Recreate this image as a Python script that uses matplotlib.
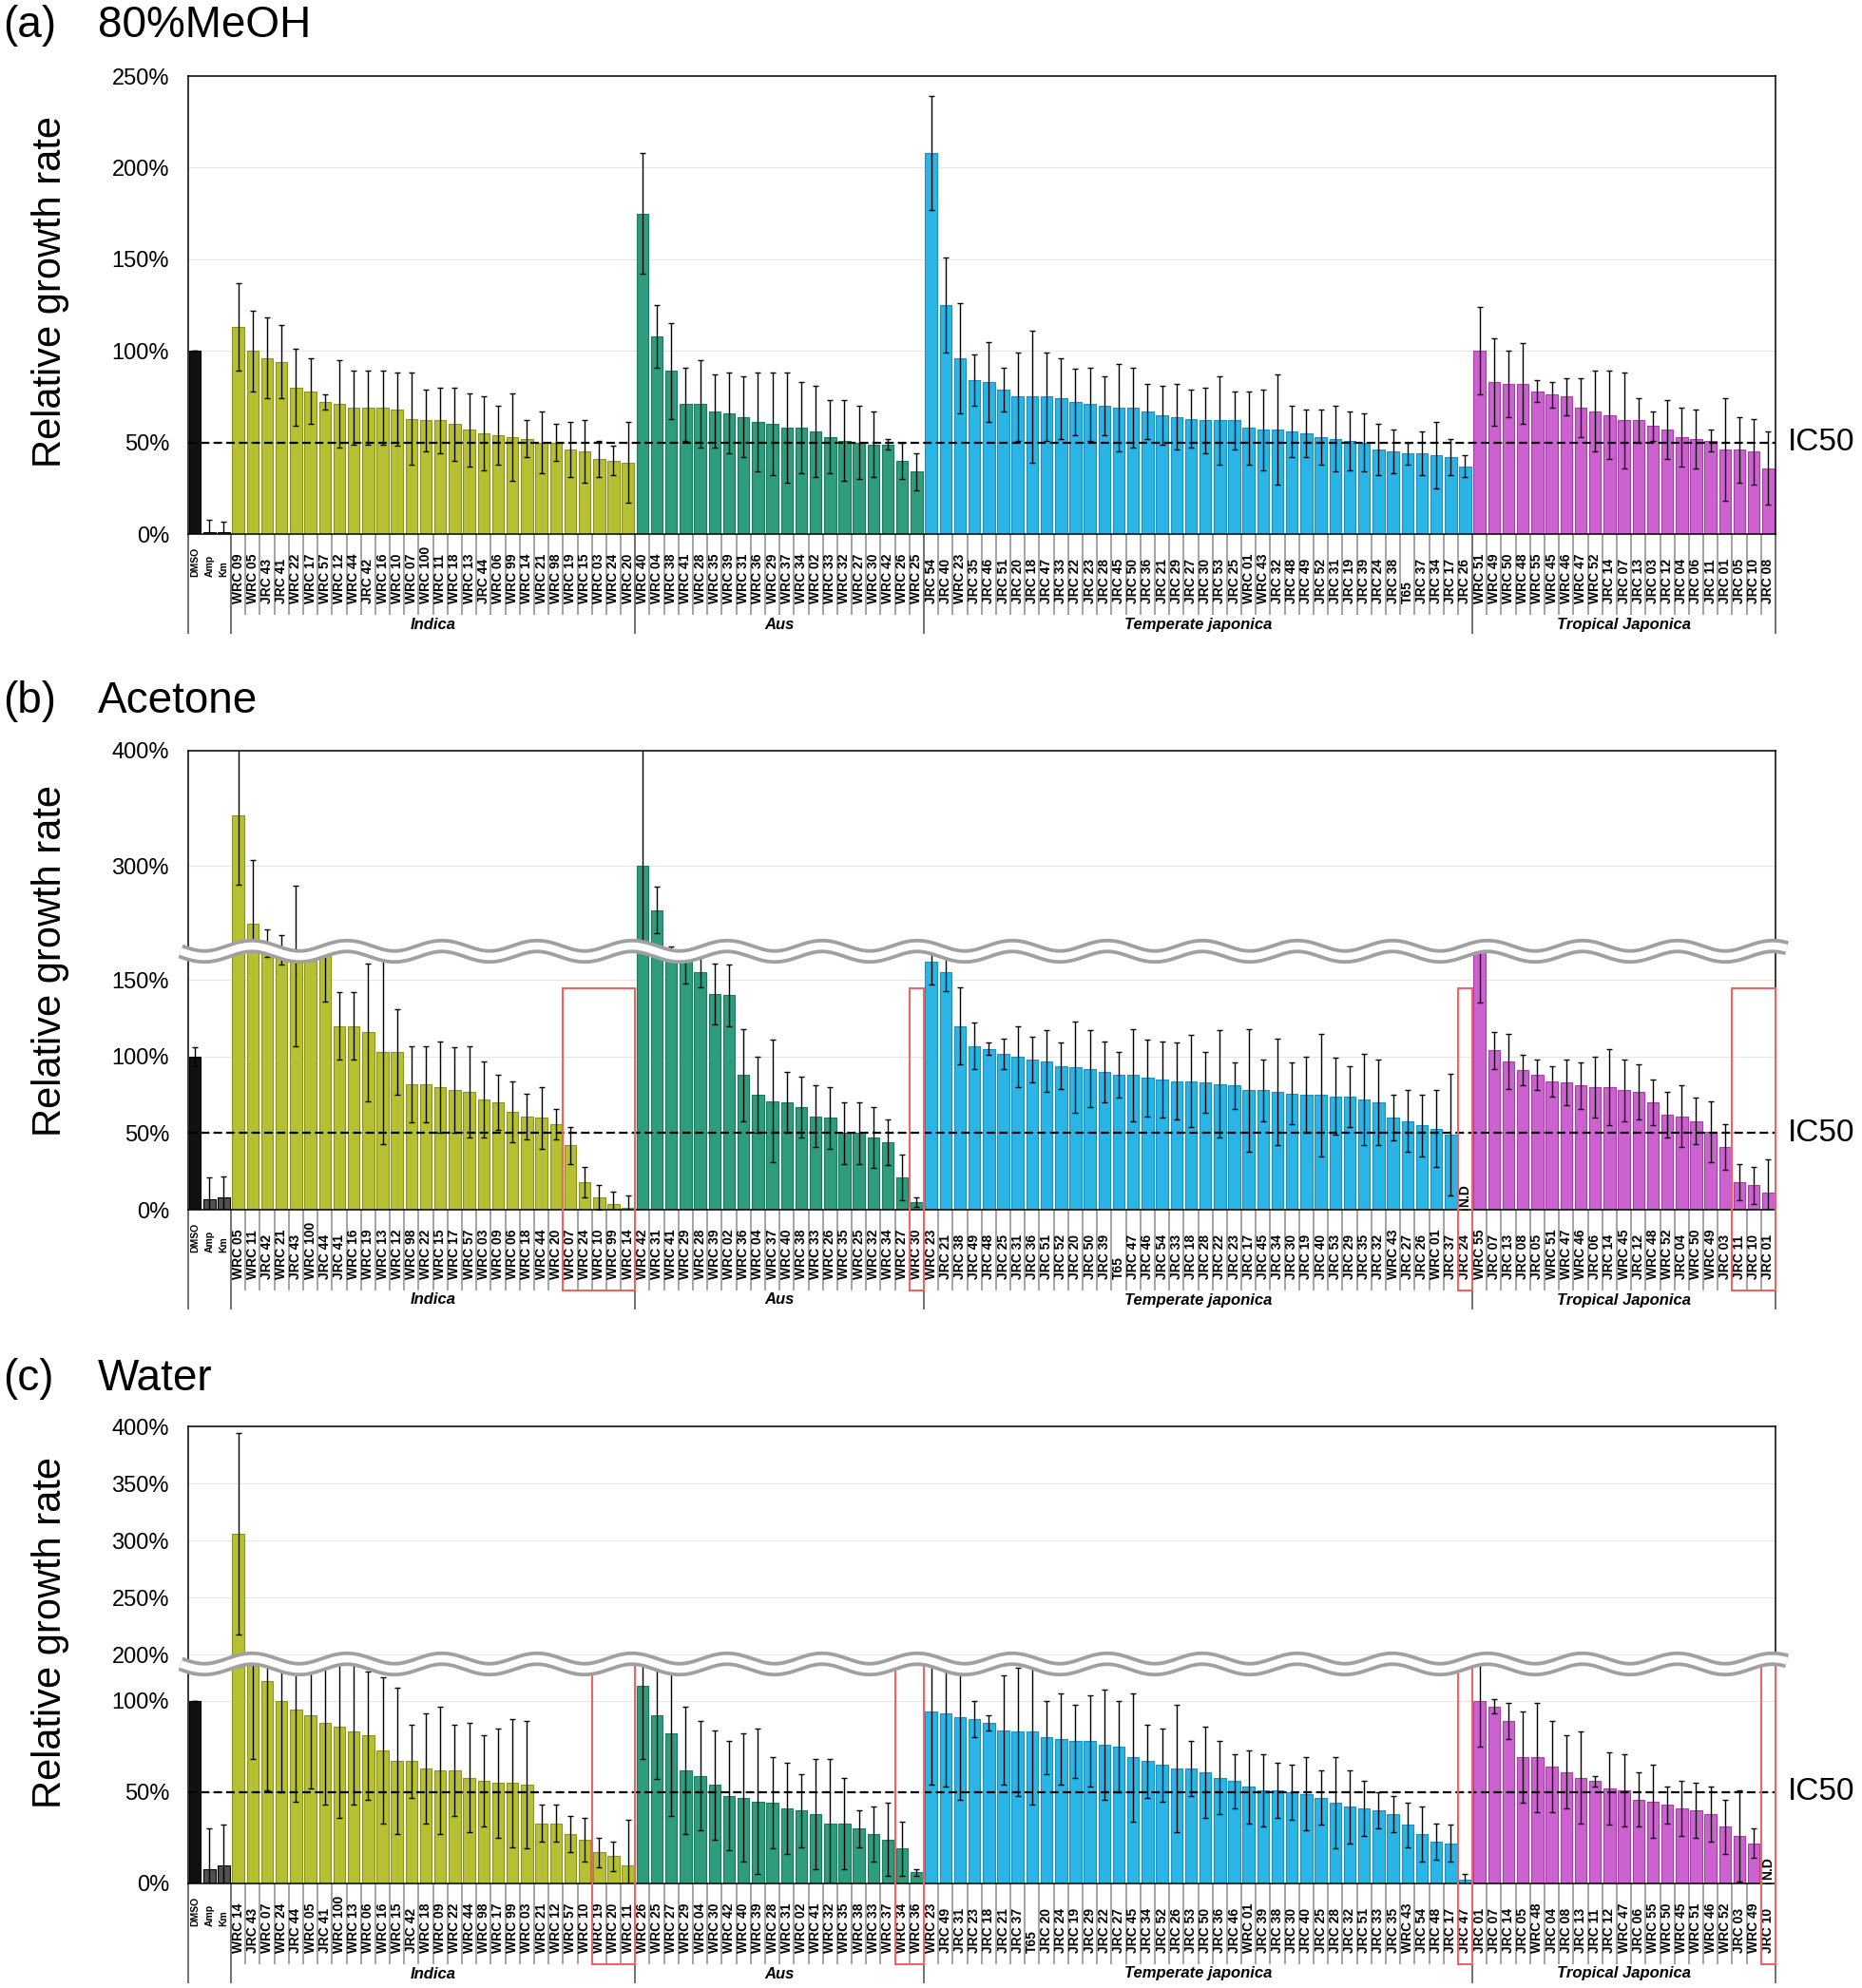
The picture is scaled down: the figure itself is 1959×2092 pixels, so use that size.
import matplotlib.pyplot as plt
import matplotlib.transforms as mtransforms
import numpy as np
from matplotlib.lines import Line2D
from matplotlib.patches import Rectangle
from matplotlib.ticker import FixedLocator, FuncFormatter

plt.rcParams['font.family'] = ['Liberation Sans', 'DejaVu Sans']

W, H = 1959, 2092
LEFT, RIGHT = 197.5, 1868

controls = ['DMSO', 'Amp', 'Km']
ctrl_colors = ['#111111', '#505050', '#505050']
group_names = ['Indica', 'Aus', 'Temperate japonica', 'Tropical Japonica']
group_colors = ['#b7bf33', '#2e9c7d', '#2ab5e6', '#cc62cf']
group_edges = ['#8c9420', '#1e7a5f', '#1c90c0', '#a540a8']

# ---------------- (a) 80% MeOH ----------------
a_ctrl_val = [100, 1, 1]
a_ctrl_err = [0, 7, 6]
a_indica_lab = ['WRC 09', 'WRC 05', 'JRC 43', 'JRC 41', 'WRC 22', 'WRC 17', 'WRC 57', 'WRC 12', 'WRC 44',
                'JRC 42', 'WRC 16', 'WRC 10', 'WRC 07', 'WRC 100', 'WRC 11', 'WRC 18', 'WRC 13', 'JRC 44',
                'WRC 06', 'WRC 99', 'WRC 14', 'WRC 21', 'WRC 98', 'WRC 19', 'WRC 15', 'WRC 03', 'WRC 24',
                'WRC 20']
a_indica_val = [113, 100, 96, 94, 80, 78, 72, 71, 69, 69, 69, 68, 63, 62, 62, 60, 57, 55, 54, 53, 52, 50,
                50, 46, 45, 41, 40, 39]
a_indica_err = [24, 22, 22, 20, 21, 18, 4, 24, 20, 20, 20, 20, 25, 17, 18, 20, 20, 20, 16, 24, 10, 17, 10,
                15, 17, 10, 8, 22]
a_aus_lab = ['WRC 40', 'WRC 04', 'WRC 38', 'WRC 41', 'WRC 28', 'WRC 35', 'WRC 39', 'WRC 31', 'WRC 36',
             'WRC 29', 'WRC 37', 'WRC 34', 'WRC 02', 'WRC 33', 'WRC 32', 'WRC 27', 'WRC 30', 'WRC 42',
             'WRC 26', 'WRC 25']
a_aus_val = [175, 108, 89, 71, 71, 67, 66, 64, 61, 60, 58, 58, 56, 53, 51, 50, 49, 49, 40, 34]
a_aus_err = [33, 17, 26, 20, 24, 20, 22, 22, 27, 28, 30, 25, 25, 20, 22, 20, 18, 3, 10, 10]
a_temp_lab = ['JRC 54', 'JRC 40', 'WRC 23', 'JRC 35', 'JRC 46', 'JRC 51', 'JRC 20', 'JRC 18', 'JRC 47',
              'JRC 33', 'JRC 22', 'JRC 23', 'JRC 28', 'JRC 45', 'JRC 50', 'JRC 36', 'JRC 21', 'JRC 29',
              'JRC 27', 'JRC 30', 'JRC 53', 'JRC 25', 'WRC 01', 'WRC 43', 'JRC 32', 'JRC 48', 'JRC 49',
              'JRC 52', 'JRC 31', 'JRC 19', 'JRC 39', 'JRC 24', 'JRC 38', 'T65', 'JRC 37', 'JRC 34',
              'JRC 17', 'JRC 26']
a_temp_val = [208, 125, 96, 84, 83, 79, 75, 75, 75, 74, 72, 71, 70, 69, 69, 67, 65, 64, 63, 62, 62, 62, 58,
              57, 57, 56, 55, 53, 52, 51, 50, 46, 45, 44, 44, 43, 42, 37]
a_temp_err = [31, 26, 30, 14, 22, 12, 24, 36, 24, 22, 18, 20, 16, 24, 22, 15, 16, 18, 16, 18, 24, 16, 20,
              22, 30, 14, 13, 15, 18, 16, 16, 14, 12, 6, 12, 18, 10, 6]
a_trop_lab = ['WRC 51', 'WRC 49', 'WRC 50', 'WRC 48', 'WRC 55', 'WRC 45', 'WRC 46', 'WRC 47', 'WRC 52',
              'JRC 14', 'JRC 07', 'JRC 13', 'JRC 03', 'JRC 12', 'JRC 04', 'JRC 06', 'JRC 11', 'JRC 01',
              'JRC 05', 'JRC 10', 'JRC 08']
a_trop_val = [100, 83, 82, 82, 78, 76, 75, 69, 67, 65, 62, 62, 59, 57, 53, 52, 51, 46, 46, 45, 36]
a_trop_err = [24, 24, 18, 22, 6, 7, 10, 16, 22, 24, 26, 12, 8, 16, 16, 16, 6, 28, 18, 18, 20]

# ---------------- (b) Acetone ----------------
b_ctrl_val = [100, 7, 8]
b_ctrl_err = [6, 14, 14]
b_indica_lab = ['WRC 05', 'WRC 11', 'JRC 42', 'WRC 21', 'JRC 43', 'WRC 100', 'JRC 44', 'JRC 41', 'WRC 16',
                'WRC 19', 'WRC 13', 'WRC 12', 'WRC 98', 'WRC 22', 'WRC 15', 'WRC 17', 'WRC 57', 'WRC 03',
                'WRC 09', 'WRC 06', 'WRC 18', 'WRC 44', 'WRC 20', 'WRC 07', 'WRC 24', 'WRC 10', 'WRC 99',
                'WRC 14']
b_indica_val = [344, 250, 205, 200, 195, 185, 166, 120, 120, 116, 103, 103, 82, 82, 80, 78, 77, 72, 70, 64,
                61, 60, 56, 42, 18, 8, 4, 1]
b_indica_err = [60, 55, 40, 40, 88, 20, 30, 22, 22, 45, 60, 28, 25, 25, 30, 28, 30, 25, 18, 20, 15, 20, 10,
                12, 10, 8, 8, 8]
b_aus_lab = ['WRC 42', 'WRC 31', 'WRC 41', 'WRC 29', 'WRC 28', 'WRC 39', 'WRC 02', 'WRC 36', 'WRC 04',
             'WRC 37', 'WRC 40', 'WRC 38', 'WRC 33', 'WRC 26', 'WRC 35', 'WRC 25', 'WRC 32', 'WRC 34',
             'WRC 27', 'WRC 30']
b_aus_val = [300, 262, 200, 163, 155, 141, 140, 88, 75, 71, 70, 67, 61, 60, 50, 50, 47, 44, 21, 5]
b_aus_err = [110, 20, 30, 15, 10, 20, 20, 30, 25, 40, 20, 20, 20, 20, 20, 20, 20, 15, 15, 3]
b_temp_lab = ['WRC 23', 'JRC 21', 'JRC 38', 'JRC 49', 'JRC 48', 'JRC 25', 'JRC 31', 'JRC 36', 'JRC 51',
              'JRC 52', 'JRC 20', 'JRC 50', 'JRC 39', 'T65', 'JRC 47', 'JRC 46', 'JRC 54', 'JRC 33',
              'JRC 18', 'JRC 28', 'JRC 22', 'JRC 23', 'JRC 17', 'JRC 45', 'JRC 34', 'JRC 30', 'JRC 19',
              'JRC 40', 'JRC 53', 'JRC 29', 'JRC 35', 'JRC 32', 'WRC 43', 'JRC 27', 'JRC 26', 'WRC 01',
              'JRC 37', 'JRC 24']
b_temp_val = [162, 155, 120, 107, 105, 102, 100, 98, 97, 94, 93, 92, 90, 88, 88, 86, 85, 84, 84, 83, 82, 81,
              78, 78, 77, 76, 75, 75, 74, 74, 72, 70, 60, 58, 55, 53, 49, 0]
b_temp_err = [15, 12, 25, 15, 4, 10, 20, 15, 20, 15, 30, 25, 20, 15, 30, 25, 25, 25, 30, 20, 35, 15, 40, 20,
              35, 20, 25, 40, 25, 20, 30, 28, 15, 20, 20, 25, 40, 0]
b_trop_lab = ['WRC 55', 'JRC 07', 'JRC 13', 'JRC 08', 'JRC 05', 'WRC 51', 'WRC 47', 'WRC 46', 'JRC 06',
              'JRC 14', 'WRC 45', 'JRC 12', 'WRC 48', 'WRC 52', 'JRC 04', 'WRC 50', 'WRC 49', 'JRC 03',
              'JRC 11', 'JRC 10', 'JRC 01']
b_trop_val = [175, 104, 97, 91, 88, 84, 83, 81, 80, 80, 78, 77, 70, 62, 61, 58, 51, 41, 18, 16, 11]
b_trop_err = [40, 12, 18, 10, 10, 10, 15, 15, 20, 25, 20, 18, 15, 15, 20, 15, 20, 15, 12, 12, 22]

# ---------------- (c) Water ----------------
c_ctrl_val = [100, 8, 10]
c_ctrl_err = [0, 22, 22]
c_indica_lab = ['WRC 14', 'JRC 43', 'WRC 07', 'WRC 24', 'JRC 44', 'WRC 05', 'JRC 41', 'WRC 100', 'WRC 13',
                'WRC 06', 'WRC 16', 'WRC 15', 'JRC 42', 'WRC 18', 'WRC 09', 'WRC 22', 'WRC 44', 'WRC 98',
                'WRC 17', 'WRC 99', 'WRC 03', 'WRC 21', 'WRC 12', 'WRC 57', 'WRC 10', 'WRC 19', 'WRC 20',
                'WRC 11']
c_indica_val = [306, 130, 111, 100, 95, 92, 88, 86, 83, 81, 73, 67, 67, 63, 62, 62, 58, 56, 55, 55, 54, 33,
                33, 27, 24, 17, 15, 10]
c_indica_err = [88, 62, 60, 50, 50, 40, 45, 50, 40, 35, 40, 40, 20, 30, 35, 25, 30, 25, 30, 35, 35, 10, 10,
                10, 12, 8, 8, 25]
c_aus_lab = ['WRC 26', 'WRC 25', 'WRC 27', 'WRC 29', 'WRC 04', 'WRC 30', 'WRC 42', 'WRC 40', 'WRC 39',
             'WRC 28', 'WRC 31', 'WRC 02', 'WRC 41', 'WRC 32', 'WRC 35', 'WRC 38', 'WRC 33', 'WRC 37',
             'WRC 34', 'WRC 36']
c_aus_val = [108, 92, 82, 62, 59, 54, 48, 47, 45, 44, 41, 40, 38, 33, 33, 30, 27, 24, 19, 6]
c_aus_err = [40, 35, 45, 35, 30, 30, 30, 35, 40, 25, 25, 20, 30, 35, 25, 10, 15, 20, 15, 2]
c_temp_lab = ['WRC 23', 'JRC 49', 'JRC 31', 'JRC 23', 'JRC 18', 'JRC 21', 'JRC 37', 'T65', 'JRC 20',
              'JRC 24', 'JRC 19', 'JRC 29', 'JRC 22', 'JRC 27', 'JRC 45', 'JRC 34', 'JRC 52', 'JRC 26',
              'JRC 53', 'JRC 50', 'JRC 36', 'JRC 46', 'WRC 01', 'JRC 39', 'JRC 38', 'JRC 30', 'JRC 40',
              'JRC 25', 'JRC 28', 'JRC 32', 'JRC 51', 'JRC 33', 'JRC 35', 'WRC 43', 'JRC 54', 'JRC 48',
              'JRC 17', 'JRC 47']
c_temp_val = [94, 93, 91, 90, 88, 84, 83, 83, 80, 79, 78, 78, 76, 75, 69, 67, 65, 63, 63, 61, 58, 56, 53, 51,
              51, 50, 49, 47, 44, 42, 41, 40, 38, 32, 27, 23, 22, 2]
c_temp_err = [40, 40, 45, 10, 4, 30, 35, 40, 20, 25, 20, 25, 30, 25, 35, 20, 20, 35, 15, 25, 20, 15, 20, 20,
              15, 15, 20, 15, 25, 20, 15, 10, 10, 12, 15, 10, 10, 3]
c_trop_lab = ['JRC 01', 'JRC 07', 'JRC 14', 'JRC 05', 'WRC 48', 'JRC 04', 'JRC 08', 'JRC 13', 'JRC 11',
              'JRC 12', 'WRC 47', 'JRC 06', 'WRC 55', 'WRC 50', 'WRC 45', 'WRC 51', 'WRC 46', 'WRC 52',
              'JRC 03', 'WRC 49', 'JRC 10']
c_trop_val = [100, 97, 89, 69, 69, 64, 61, 58, 56, 52, 51, 46, 45, 43, 41, 40, 38, 31, 26, 22, 0]
c_trop_err = [25, 4, 10, 25, 30, 25, 20, 25, 3, 20, 20, 15, 20, 10, 15, 15, 15, 15, 25, 8, 0]

# highlighted (red box) bars: (group index, first, last) and not-determined bars
b_boxes = [(0, 23, 27), (1, 19, 19), (2, 37, 37), (3, 18, 20)]
c_boxes = [(0, 25, 27), (1, 18, 19), (2, 37, 37), (3, 20, 20)]
b_nd = [(2, 37)]
c_nd = [(3, 20)]

fig = plt.figure(figsize=(W / 100, H / 100), dpi=100)


def add_axes(top, bottom):
    return fig.add_axes([LEFT / W, 1 - bottom / H, (RIGHT - LEFT) / W, (bottom - top) / H])


def assemble(ctrl_val, ctrl_err, groups):
    labels, vals, errs = list(controls), list(ctrl_val), list(ctrl_err)
    faces, edges = list(ctrl_colors), ['black'] * 3
    spans = []
    for (lab, val, err), fc, ec in zip(groups, group_colors, group_edges):
        start = len(labels)
        labels += lab
        vals += val
        errs += err
        faces += [fc] * len(lab)
        edges += [ec] * len(lab)
        spans.append((start, len(labels) - 1))
    return labels, np.array(vals, float), np.array(errs, float), faces, edges, spans


def draw_bars(ax, data, ylim, ticks):
    labels, vals, errs, faces, edges, spans = data
    x = np.arange(len(labels))
    ax.bar(x, vals, width=0.82, color=faces, edgecolor=edges, linewidth=0.8, zorder=2)
    ax.errorbar(x, vals, yerr=errs, fmt='none', ecolor='black', elinewidth=1.0,
                capsize=2, capthick=1.0, zorder=5)
    ax.set_xlim(-0.5, len(labels) - 0.5)
    ax.set_ylim(*ylim)
    ax.set_xticks([])
    ax.yaxis.set_major_locator(FixedLocator(ticks))
    ax.yaxis.set_major_formatter(FuncFormatter(lambda v, p: f'{int(v)}%'))
    ax.tick_params(axis='y', length=0, pad=14, labelsize=17)
    ax.yaxis.grid(True, color='#e6e6e6', lw=0.8)
    ax.set_axisbelow(True)
    for s in ax.spines.values():
        s.set_linewidth(1.1)


def ic50(ax):
    ax.axhline(50, color='black', ls=(0, (4, 2)), lw=1.6, zorder=4)
    tr = mtransforms.blended_transform_factory(ax.transAxes, ax.transData)
    ax.text(1.008, 50, 'IC50', transform=tr, fontsize=24, ha='left', va='center')


def label_area(ax, height_px, data, boxes=(), box_top=1.0):
    labels, vals, errs, faces, edges, spans = data
    trans = mtransforms.blended_transform_factory(ax.transData, ax.transAxes)

    def fy(px):
        return -px / height_px

    n = len(labels)
    long_x = [-0.5, 2.5] + [e + 0.5 for s, e in spans]
    short_x = [i + 0.5 for i in range(3, n - 1) if i + 0.5 not in long_x]
    ax.vlines(short_x, fy(85), 0, transform=trans, colors='#8a8a8a', lw=1.1, clip_on=False)
    ax.vlines(long_x, fy(105), 0, transform=trans, colors='#666666', lw=1.3, clip_on=False)
    for i, lab in enumerate(labels):
        if i < 3:
            ax.text(i, fy(45), lab, rotation=90, ha='center', va='bottom', transform=trans,
                    fontsize=7.5, fontweight='bold')
        else:
            ax.text(i, fy(73), lab, rotation=90, ha='center', va='bottom', transform=trans,
                    fontsize=10, fontweight='bold')
    for (s, e), name in zip(spans, group_names):
        ax.text((s + e) / 2, fy(95), name, ha='center', va='center', transform=trans,
                fontsize=12, fontweight='bold', fontstyle='italic')
    for g, first, last in boxes:
        s0 = spans[g][0]
        ax.add_patch(Rectangle((s0 + first - 0.5, fy(85)), last - first + 1, box_top - fy(85),
                               transform=trans, fill=False, edgecolor='#ee6464', lw=1.5,
                               clip_on=False, zorder=6))


def not_determined(ax, data, nd):
    spans = data[5]
    for g, idx in nd:
        ax.text(spans[g][0] + idx, 2, 'N.D', rotation=90, ha='center', va='bottom',
                fontsize=10, fontweight='bold', zorder=6)


def wave(yc):
    xs = np.linspace(190, 1880, 800)
    ys = yc + 5.5 * np.sin(2 * np.pi * (xs - 190) / 100)
    for col, lw in (('#a0a0a0', 11), ('white', 5.5)):
        fig.add_artist(Line2D(xs / W, 1 - ys / H, color=col, lw=lw, solid_capstyle='butt', zorder=10))


def titles(y_px, tag, name, ylab_px):
    fig.text(3 / W, 1 - y_px / H, tag, fontsize=33, ha='left', va='center')
    fig.text(103 / W, 1 - y_px / H, name, fontsize=33, ha='left', va='center')
    fig.text(53 / W, 1 - ylab_px / H, 'Relative growth rate', rotation=90, fontsize=30,
             ha='center', va='center')


data_a = assemble(a_ctrl_val, a_ctrl_err, [(a_indica_lab, a_indica_val, a_indica_err),
                                           (a_aus_lab, a_aus_val, a_aus_err),
                                           (a_temp_lab, a_temp_val, a_temp_err),
                                           (a_trop_lab, a_trop_val, a_trop_err)])
data_b = assemble(b_ctrl_val, b_ctrl_err, [(b_indica_lab, b_indica_val, b_indica_err),
                                           (b_aus_lab, b_aus_val, b_aus_err),
                                           (b_temp_lab, b_temp_val, b_temp_err),
                                           (b_trop_lab, b_trop_val, b_trop_err)])
data_c = assemble(c_ctrl_val, c_ctrl_err, [(c_indica_lab, c_indica_val, c_indica_err),
                                           (c_aus_lab, c_aus_val, c_aus_err),
                                           (c_temp_lab, c_temp_val, c_temp_err),
                                           (c_trop_lab, c_trop_val, c_trop_err)])

# (a)
ax_a = add_axes(80, 562)
draw_bars(ax_a, data_a, (0, 250), [0, 50, 100, 150, 200, 250])
ic50(ax_a)
label_area(ax_a, 562 - 80, data_a)
titles(27, '(a)', '80%MeOH', 307)

# (b) broken axis
ax_b_top = add_axes(790, 1002)
ax_b_bot = add_axes(1002, 1273)
draw_bars(ax_b_top, data_b, (225.4, 400), [300, 400])
draw_bars(ax_b_bot, data_b, (0, 168.2), [0, 50, 100, 150])
ax_b_top.spines['bottom'].set_visible(False)
ax_b_bot.spines['top'].set_visible(False)
ic50(ax_b_bot)
label_area(ax_b_bot, 1273 - 1002, data_b, b_boxes, box_top=0.86)
not_determined(ax_b_bot, data_b, b_nd)
wave(1001)
titles(738, '(b)', 'Acetone', 1011)

# (c) broken axis
ax_c_top = add_axes(1501, 1750)
ax_c_bot = add_axes(1750, 1982)
draw_bars(ax_c_top, data_c, (192.7, 400), [200, 250, 300, 350, 400])
draw_bars(ax_c_bot, data_c, (0, 120.7), [0, 50, 100])
ax_c_top.spines['bottom'].set_visible(False)
ax_c_bot.spines['top'].set_visible(False)
ic50(ax_c_bot)
label_area(ax_c_bot, 1982 - 1750, data_c, c_boxes, box_top=0.99)
not_determined(ax_c_bot, data_c, c_nd)
wave(1751)
titles(1451, '(c)', 'Water', 1718)

fig.savefig('out.png', dpi=100)
